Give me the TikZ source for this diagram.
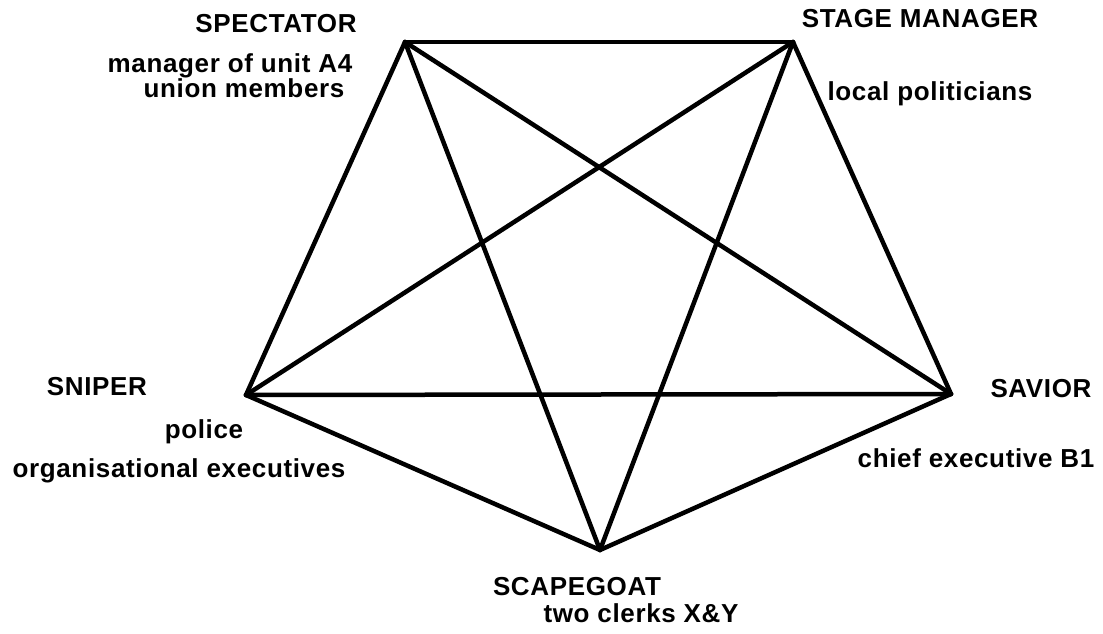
\documentclass[tikz,border=0pt]{standalone}
\usepackage{fontspec}
\setmainfont{Liberation Sans}[LetterSpace=2.5]
\begin{document}
\begin{tikzpicture}[x=1pt,y=-1pt,
  edge/.style={line width=4.5pt,line join=miter,line cap=round},
  lbl/.style={anchor=base,inner sep=0pt,font=\fontsize{26}{30}\selectfont\bfseries}]
\useasboundingbox (0,0) rectangle (1103,634);
\coordinate (tl) at (405,42);
\coordinate (tr) at (793,42);
\coordinate (r) at (951,394);
\coordinate (b) at (600,550);
\coordinate (l) at (246,395);
\draw[edge] (tl) -- (tr);
\draw[edge] (tr) -- (r);
\draw[edge] (r) -- (b);
\draw[edge] (b) -- (l);
\draw[edge] (l) -- (tl);
\draw[edge] (tl) -- (r);
\draw[edge] (tl) -- (b);
\draw[edge] (tr) -- (l);
\draw[edge] (tr) -- (b);
\draw[edge] (l) -- (r);
\node[lbl] (spec) at (276,33) {SPECTATOR};
\node[lbl] (spec1) at (230,73) {manager of unit A4};
\node[lbl] (spec2) at (244,97) {union members};
\node[lbl] (stage) at (920,28) {STAGE MANAGER};
\node[lbl] (stage1) at (930,100) {local politicians};
\node[lbl] (snip) at (97,395) {SNIPER};
\node[lbl] (snip1) at (204,438) {police};
\node[lbl] (snip2) at (179,477) {organisational executives};
\node[lbl] (sav) at (1041,397) {SAVIOR};
\node[lbl] (sav1) at (976,467) {chief executive B1};
\node[lbl] (scape) at (577,595) {SCAPEGOAT};
\node[lbl] (scape1) at (641,622) {two clerks X\&Y};
\end{tikzpicture}
\end{document}
